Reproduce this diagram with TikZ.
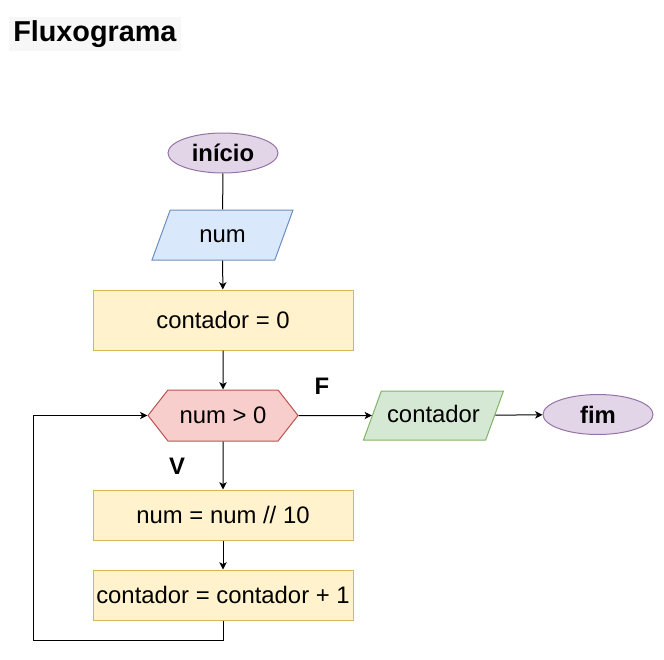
\documentclass[tikz,border=0pt]{standalone}
\usepackage{fontspec}
\setmainfont{Liberation Sans}
\usepackage{tikz}
\usetikzlibrary{arrows.meta,positioning,shapes.geometric,shapes.symbols}
\tikzset{>=latex}
\definecolor{termfill}{HTML}{E1D5E7}
\definecolor{termline}{HTML}{9673A6}
\definecolor{infill}{HTML}{DAE8FC}
\definecolor{inline}{HTML}{6C8EBF}
\definecolor{procfill}{HTML}{FFF2CC}
\definecolor{procline}{HTML}{D6B656}
\definecolor{testfill}{HTML}{F8CECC}
\definecolor{testline}{HTML}{B85450}
\definecolor{outfill}{HTML}{D5E8D4}
\definecolor{outline}{HTML}{82B366}
\def\px{0.75pt}
\newcommand{\boxfont}{\fontsize{17.9}{20}\selectfont}
\tikzstyle{term}=[ellipse,draw=termline,fill=termfill,line width=\px,minimum width=110*\px,minimum height=40*\px,inner sep=0pt,font=\boxfont\bfseries]
\tikzstyle{io}=[trapezium,trapezium left angle=70,trapezium right angle=110,trapezium stretches body,line width=\px,minimum width=141*\px,text height=13pt,text depth=2pt,inner xsep=0pt,inner ysep=11.25pt,font=\boxfont]
\tikzstyle{inbox}=[io,draw=inline,fill=infill]
\tikzstyle{outbox}=[io,draw=outline,fill=outfill,minimum width=140*\px,inner ysep=10.875pt]
\tikzstyle{proc}=[rectangle,draw=procline,fill=procfill,line width=\px,minimum width=260*\px,minimum height=50*\px,inner sep=0pt,font=\boxfont]
\tikzstyle{test}=[signal,signal to=west and east,signal pointer angle=104,draw=testline,fill=testfill,line width=\px,minimum width=150*\px,minimum height=51*\px,inner sep=0pt,font=\boxfont]
\tikzstyle{flow}=[-{Stealth[length=5.5pt,width=5.5pt,inset=1.5pt]},line width=\px,black]
\tikzstyle{plain}=[line width=\px,black]
\tikzstyle{tag}=[font=\boxfont\bfseries,inner sep=0pt]

\begin{document}
\begin{tikzpicture}[x=0.75pt,y=-0.75pt]
  \useasboundingbox (0,0) rectangle (664,660);
  \node[anchor=west,fill=black!3,inner sep=3pt,font=\fontsize{21.6}{24}\selectfont\bfseries] (title) at (9,34) {Fluxograma};

  % fluxo principal
  \node[term] (inicio) at (223,153) {início};
  \node[inbox] (num) at (222.5,235) {num};
  \node[proc,minimum height=60*\px] (zero) at (223,320) {contador = 0};
  \node[test] (cond) at (223,415.5) {num > 0};
  \node[proc] (div) at (223,515) {num = num // 10};
  \node[proc] (soma) at (223,595) {contador = contador + 1};

  % saida
  \node[outbox] (saida) at (433.5,415.5) {contador};
  \node[term] (fim) at (598,414.5) {fim};

  \node[tag] (lblF) at (322,386) {F};
  \node[tag] (lblV) at (177,466) {V};

  \draw[plain] (inicio) -- (num);
  \draw[flow] (num) -- (zero);
  \draw[flow] (zero) -- (cond);
  \draw[flow] (cond) -- (div);
  \draw[flow] (div) -- (soma);
  \draw[flow] (cond.east) -- (saida);
  \draw[flow] (saida) -- (fim);

  % volta do laco
  \coordinate (volta) at (33,640);
  \draw[flow] (soma.south) |- (volta) |- (cond.west);
\end{tikzpicture}
\end{document}
